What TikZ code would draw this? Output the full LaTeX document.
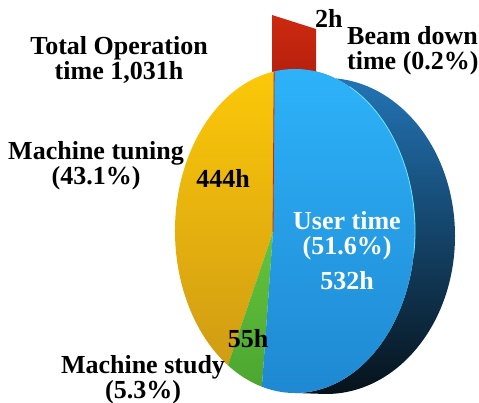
\documentclass[tikz,border=0pt]{standalone}
\usepackage{fontspec}
\setmainfont{Liberation Serif}
\usetikzlibrary{calc}

\definecolor{yelA}{HTML}{FCC808}
\definecolor{yelB}{HTML}{D09C14}
\definecolor{grnA}{HTML}{64C43C}
\definecolor{grnB}{HTML}{4CA631}
\definecolor{bluA}{HTML}{2DB3F9}
\definecolor{bluB}{HTML}{1E86D0}
\definecolor{rimA}{HTML}{2376B8}
\definecolor{rimM}{HTML}{17557F}
\definecolor{rimB}{HTML}{06121A}
\definecolor{flagA}{HTML}{CC2A10}
\definecolor{flagB}{HTML}{B41E0C}
\definecolor{hilite}{HTML}{6FE6FF}

\begin{document}
\begin{tikzpicture}[x=1pt,y=1pt]

\tikzset{lbl/.style = {inner sep=0pt, font=\fontsize{26}{25}\selectfont\bfseries, align=center}}
\tikzset{yel/.style = {top color=yelA, bottom color=yelB}}
\tikzset{grn/.style = {top color=grnA, bottom color=grnB}}
\tikzset{blu/.style = {top color=bluA, bottom color=bluB}}
\tikzset{rim/.style = {top color=rimA, middle color=rimM, bottom color=rimB}}
\useasboundingbox (0,0) rectangle (479,403);

\coordinate (C) at (295,172);  % centre of the face
\coordinate (B) at (326,167);  % centre of the back
\coordinate (O) at (273,171);  % apex of the slices

% beam down slice
\path[top color=flagA, bottom color=flagB] (272,388) -- (316,374) -- (316,320) -- (272,320) -- cycle;

% side of the disc
\path[rim] ($(C)+(80:120pt and 162pt)$) -- ($(B)+(0,158)$)
  arc[start angle=90, end angle=-90, x radius=129pt, y radius=158pt]
  -- ($(C)+(0,-162)$)
  arc[start angle=-90, end angle=80, x radius=120pt, y radius=162pt] -- cycle;

% face
\foreach \a/\b/\s in {100/236/yel, 236/254/grn, 254/460/blu}
\path[\s] (O) -- ($(C)+(\a:120pt and 162pt)$)
  arc[start angle=\a, end angle=\b, x radius=120pt, y radius=162pt] -- cycle;

\draw[hilite, line width=0.8pt] ($(C)+(63:120pt and 162pt)$)
  arc[start angle=63, end angle=-8, x radius=120pt, y radius=162pt];
\draw[flagA!80!red, line width=0.8pt] (O) -- ($(C)+(100:120pt and 162pt)$);

\node[lbl, anchor=north] (total) at (119,367) {Total Operation\\time 1,031h};
\node[lbl, anchor=base west] (hours2) at (315,375) {2h};
\node[lbl, anchor=north west, align=left] (beam) at (347,377) {Beam down\\time (0.2\%)};
\node[lbl, anchor=north] (tuning) at (96,262) {Machine tuning\\(43.1\%)};
\node[lbl, anchor=base] (hours444) at (223,215) {444h};
\node[lbl, anchor=north, text=white] (user) at (347,192) {User time\\(51.6\%)\\[10pt]532h};
\node[lbl, anchor=base] (hours55) at (248,55) {55h};
\node[lbl, anchor=north] (study) at (143,48) {Machine study\\(5.3\%)};

\end{tikzpicture}
\end{document}
